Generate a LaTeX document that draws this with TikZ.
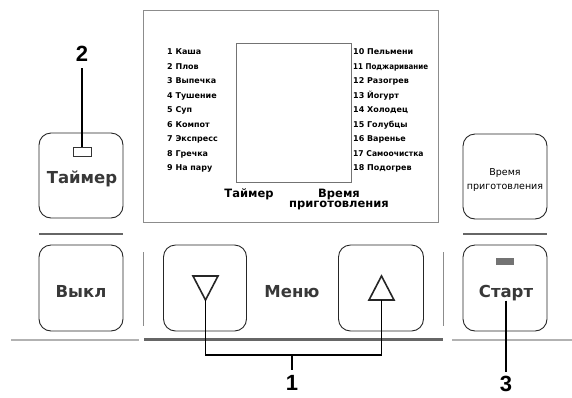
\documentclass[tikz,border=0pt]{standalone}
\usepackage{fontspec}
\setmainfont{DejaVu Sans}
\newfontfamily\labfont{Liberation Sans}
\begin{document}
\begin{tikzpicture}[x=1pt,y=-1pt,
  btn/.style={draw=black!85, line width=0.9pt, rounded corners=12pt, inner sep=0pt},
  dispframe/.style={draw=black!45, line width=0.9pt, inner sep=0pt},
  btntext/.style={anchor=base, font=\bfseries\fontsize{16.5}{20}\selectfont, text=black!78, inner sep=0pt},
  item/.style={anchor=base west, font=\bfseries\fontsize{8}{10}\selectfont, inner sep=0pt},
  head/.style={font=\bfseries\fontsize{11.5}{10}\selectfont, inner sep=0pt, align=center},
  leader/.style={line width=1.5pt, draw=black},
  callout/.style={font=\labfont\bfseries\fontsize{22}{22}\selectfont, inner sep=0pt},
  sepline/.style={draw=black!45, line width=0.8pt},
  tri/.style={draw=black!85, line width=1.6pt, line join=miter},
]
\useasboundingbox (0,0) rectangle (572,397);

% display
\node[dispframe, minimum width=295pt, minimum height=212pt] (display) at (290.5,116) {};
\node[draw=black!55, line width=0.8pt, inner sep=0pt, minimum width=115pt, minimum height=139pt] (screen) at (293.5,112.5) {};

\foreach \t [count=\i] in {1 Каша, 2 Плов, 3 Выпечка, 4 Тушение, 5 Суп, 6 Компот, 7 Экспресс, 8 Гречка, 9 На пару}
  \node[item] (l\i) at (167,{40+14.5*\i}) {\t};
\foreach \t [count=\i] in {10 Пельмени, {\scalebox{0.89}[1]{11 Поджаривание}}, 12 Разогрев, 13 Йогурт, 14 Холодец, 15 Голубцы, 16 Варенье, {\scalebox{0.95}[1]{17 Самоочистка}}, 18 Подогрев}
  \node[item] (r\i) at (353,{40+14.5*\i}) {\t};

\node[head] (hl) at (249,194) {Таймер};
\node[head] (hr) at (339,199) {Время\\приготовления};

% upper buttons
\node[btn, minimum width=84pt, minimum height=85pt] (timer) at (81,175.5) {};
\node[btn, minimum width=84pt, minimum height=85pt] (cook) at (505,176.5) {};
\node[btntext] (timertxt) at (82,183) {Таймер};
\node[font=\fontsize{9.5}{14}\selectfont, align=center, inner sep=0pt] (cooktxt) at (505,180) {Время\\приготовления};
\node[draw=black!80, line width=0.8pt, minimum width=18pt, minimum height=9pt, inner sep=0pt] (tind) at (82,151.5) {};

% lines above lower row
\draw[black!60, line width=1.2pt] (39,234) -- (123,234);
\draw[black!60, line width=1.2pt] (463,234) -- (547,234);

% lower buttons
\node[btn, minimum width=84pt, minimum height=86pt] (off) at (81,288) {};
\node[btn, minimum width=83pt, minimum height=86pt] (down) at (205,288) {};
\node[btn, minimum width=85pt, minimum height=86pt] (up) at (381,288) {};
\node[btn, minimum width=84pt, minimum height=86pt] (start) at (505,288) {};
\node[btntext] (offtxt) at (81,297) {Выкл};
\node[btntext] (menutxt) at (292,297) {Меню};
\node[btntext] (starttxt) at (506,297) {Старт};
\node[fill=black!55, minimum width=18pt, minimum height=7pt, inner sep=0pt] (sind) at (504.5,261.5) {};

\draw[sepline] (143,252) -- (143,326);
\draw[sepline] (443,252) -- (443,326);

% triangles
\coordinate (dapex) at (205.5,300);
\coordinate (ubase) at (381.5,300);
\draw[tri] (193,276) -- (218,276) -- (dapex) -- cycle;
\draw[tri] (381.5,276) -- (394,300) -- (369,300) -- cycle;

% base line
\draw[black!30, line width=1.5pt] (11,340) -- (139,340);
\draw[black!60, line width=3pt] (144,339.5) -- (443,339.5);
\draw[black!30, line width=1.5pt] (452,340) -- (572,340);

% callouts
\node[callout, anchor=south] (lab2) at (82,62) {2};
\node[callout, anchor=north] (lab1) at (292,375) {1};
\node[callout, anchor=north] (lab3) at (506,376) {3};
\coordinate (br) at (292,355);

\draw[leader] (lab2.south) ++(0,6) -- (tind.north);
\draw[leader] (dapex) |- (br) -| (ubase);
\draw[leader, shorten >=5pt] (br) -- (lab1.north);
\draw[leader, shorten >=4pt] (starttxt.south) -- (lab3.north);
\end{tikzpicture}
\end{document}
